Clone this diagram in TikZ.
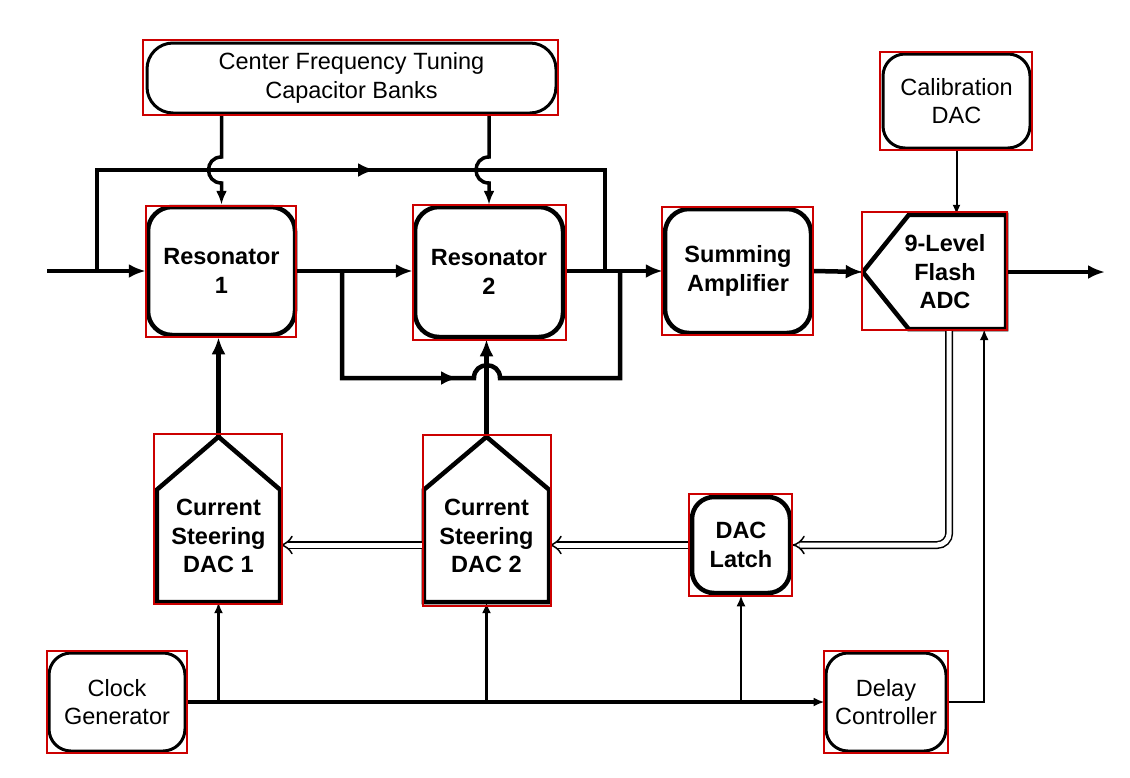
\documentclass[tikz,border=0pt]{standalone}
\usepackage{fontspec}
\setmainfont{Liberation Sans}
\usetikzlibrary{arrows.meta}
\usetikzlibrary{calc}

\begin{document}
\begin{tikzpicture}[x=1pt, y=-1pt,
    blk/.style={draw, line width=4.5pt, rounded corners=24pt, align=center,
        inner sep=0pt, font=\fontsize{23.5}{28.5}\selectfont\bfseries},
    aux/.style={draw, line width=3pt, rounded corners=22pt, align=center,
        inner sep=0pt, font=\fontsize{23.5}{28.5}\selectfont},
    shp/.style={inner sep=0pt},
    lbl/.style={align=center, font=\fontsize{23.5}{28.5}\selectfont\bfseries},
    wire/.style={line width=4.5pt},
    sig/.style={line width=4.5pt, -{Latex[length=17pt,width=14pt]}},
    tune/.style={line width=3.5pt, -{Latex[length=14pt,width=11pt]}},
    tick/.style={line width=2.5pt, -{Latex[length=11pt,width=9pt]}},
    bus/.style={double, double distance=5pt, line width=1.5pt, -{Implies}},
    redbox/.style={draw=red!80!black, line width=1.5pt}
]
    \useasboundingbox (0, 0) rectangle (1130, 777);

    %% blocks
    \node[aux, rounded corners=26pt, minimum width=409pt, minimum height=70pt]
        (bank) at (351.5, 78) {Center Frequency Tuning\\Capacitor Banks};
    \node[blk, minimum width=147pt, minimum height=128pt] (res1) at (221.5, 271) {Resonator\\1};
    \node[blk, minimum width=148pt, minimum height=130pt] (res2) at (489, 272) {Resonator\\2};
    \node[blk, minimum width=146pt, minimum height=124pt] (sum) at (738, 271) {Summing\\Amplifier};
    \node[aux, minimum width=147pt, minimum height=94pt] (cal) at (956.5, 101) {Calibration\\DAC};
    \node[blk, rounded corners=22pt, minimum width=98pt, minimum height=96pt]
        (latch) at (741, 545) {DAC\\Latch};
    \node[aux, minimum width=136pt, minimum height=98pt] (clk) at (117, 702) {Clock\\Generator};
    \node[aux, minimum width=120pt, minimum height=98pt] (dly) at (886, 702) {Delay\\Controller};

    %% flash adc
    \node[shp, minimum width=143pt, minimum height=114pt] (adc) at (934.5, 272) {};
    \draw[line width=4.5pt, line join=miter] (adc.north east) -- (adc.south east)
        -- ($(adc.south west)+(46, 0)$) -- (adc.west) -- ($(adc.north west)+(46, 0)$) -- cycle;
    \node[lbl] at ($(adc)+(10.5, 0)$) {9-Level\\Flash\\ADC};

    %% current steering dacs
    \node[shp, minimum width=123pt, minimum height=112pt] (dac1) at (218.5, 546) {};
    \node[shp, minimum width=125pt, minimum height=112pt] (dac2) at (486.5, 546) {};
    \coordinate (dac1top) at ($(dac1.north)+(0, -53)$);
    \coordinate (dac2top) at ($(dac2.north)+(0, -53)$);
    \draw[line width=4.5pt] (dac1.south west) -- (dac1.south east) -- (dac1.north east)
        -- (dac1top) -- (dac1.north west) -- cycle;
    \draw[line width=4.5pt] (dac2.south west) -- (dac2.south east) -- (dac2.north east)
        -- (dac2top) -- (dac2.north west) -- cycle;
    \node[lbl] at ($(dac1)+(0, -10)$) {Current\\Steering\\DAC 1};
    \node[lbl] at ($(dac2)+(0, -10)$) {Current\\Steering\\DAC 2};

    %% signal path
    \coordinate (in) at (47, 271);
    \coordinate (out) at (1105, 272);
    \draw[sig] (in) -- (res1.west);
    \draw[sig] (res1.east) -- (res2.west |- res1.east);
    \draw[sig] (res2.east |- sum.west) -- (sum.west);
    \draw[sig] (sum.east) -- (adc.west);
    \draw[sig] (adc.east) -- (out);

    %% feedforward around resonator 2
    \coordinate (ffa) at (97, 271);
    \coordinate (ffb) at (605, 271);
    \draw[wire] (ffa) -- (97, 170) -- (605, 170) -- (ffb);
    \draw[sig] (97, 170) -- (375, 170);

    %% loop under resonator 2, hopping the dac 2 line
    \coordinate (fba) at (342, 271);
    \coordinate (fbb) at (620, 271);
    \draw[wire] (fba) -- (342, 378) -- (474, 378)
        .. controls (474, 361) and (500, 361) .. (500, 378) -- (620, 378) -- (fbb);
    \draw[sig] (342, 378) -- (458, 378);

    %% tuning, hopping the feedforward line
    \draw[tune] (res1.north |- bank.south) -- (res1.north |- 0,157)
        .. controls +(-17.3, 0) and +(-17.3, 0) .. (res1.north |- 0,183) -- (res1.north);
    \draw[tune] (res2.north |- bank.south) -- (res2.north |- 0,157)
        .. controls +(-17.3, 0) and +(-17.3, 0) .. (res2.north |- 0,183) -- (res2.north);
    \draw[line width=2pt, -{Latex[length=10pt,width=8pt]}] (cal.south) -- (cal.south |- adc.north);

    %% dac outputs
    \draw[sig] (dac1top) -- (dac1top |- res1.south);
    \draw[sig] (dac2top) -- (dac2top |- res2.south);

    %% digital feedback
    \draw[bus, rounded corners=12pt] ($(adc.south east)+(-57, 0)$) |- (latch.east);
    \draw[bus] (latch.west) -- (dac2.east |- latch.west);
    \draw[bus] (dac2.west |- latch.west) -- (dac1.east |- latch.west);

    %% clock
    \draw[tick, line width=3.5pt] (clk.east) -- (dly.west);
    \draw[tick] (dac1.south |- clk.east) -- (dac1.south);
    \draw[tick] (dac2.south |- clk.east) -- (dac2.south);
    \draw[tick] (latch.south |- clk.east) -- (latch.south);
    \draw[tick] (dly.east) -| ($(adc.south east)+(-22, 0)$);

    %% marks
    \draw[redbox] (143, 40) rectangle (558, 115);
    \draw[redbox] (146, 206) rectangle (296, 337);
    \draw[redbox] (413, 205) rectangle (566, 340);
    \draw[redbox] (662, 207) rectangle (813, 335);
    \draw[redbox] (862, 212) rectangle (1007, 330);
    \draw[redbox] (880, 52) rectangle (1032, 150);
    \draw[redbox] (154, 434) rectangle (282, 604);
    \draw[redbox] (423, 435) rectangle (551, 606);
    \draw[redbox] (689, 494) rectangle (792, 596);
    \draw[redbox] (47, 651) rectangle (187, 753);
    \draw[redbox] (824, 651) rectangle (948, 753);
\end{tikzpicture}
\end{document}
